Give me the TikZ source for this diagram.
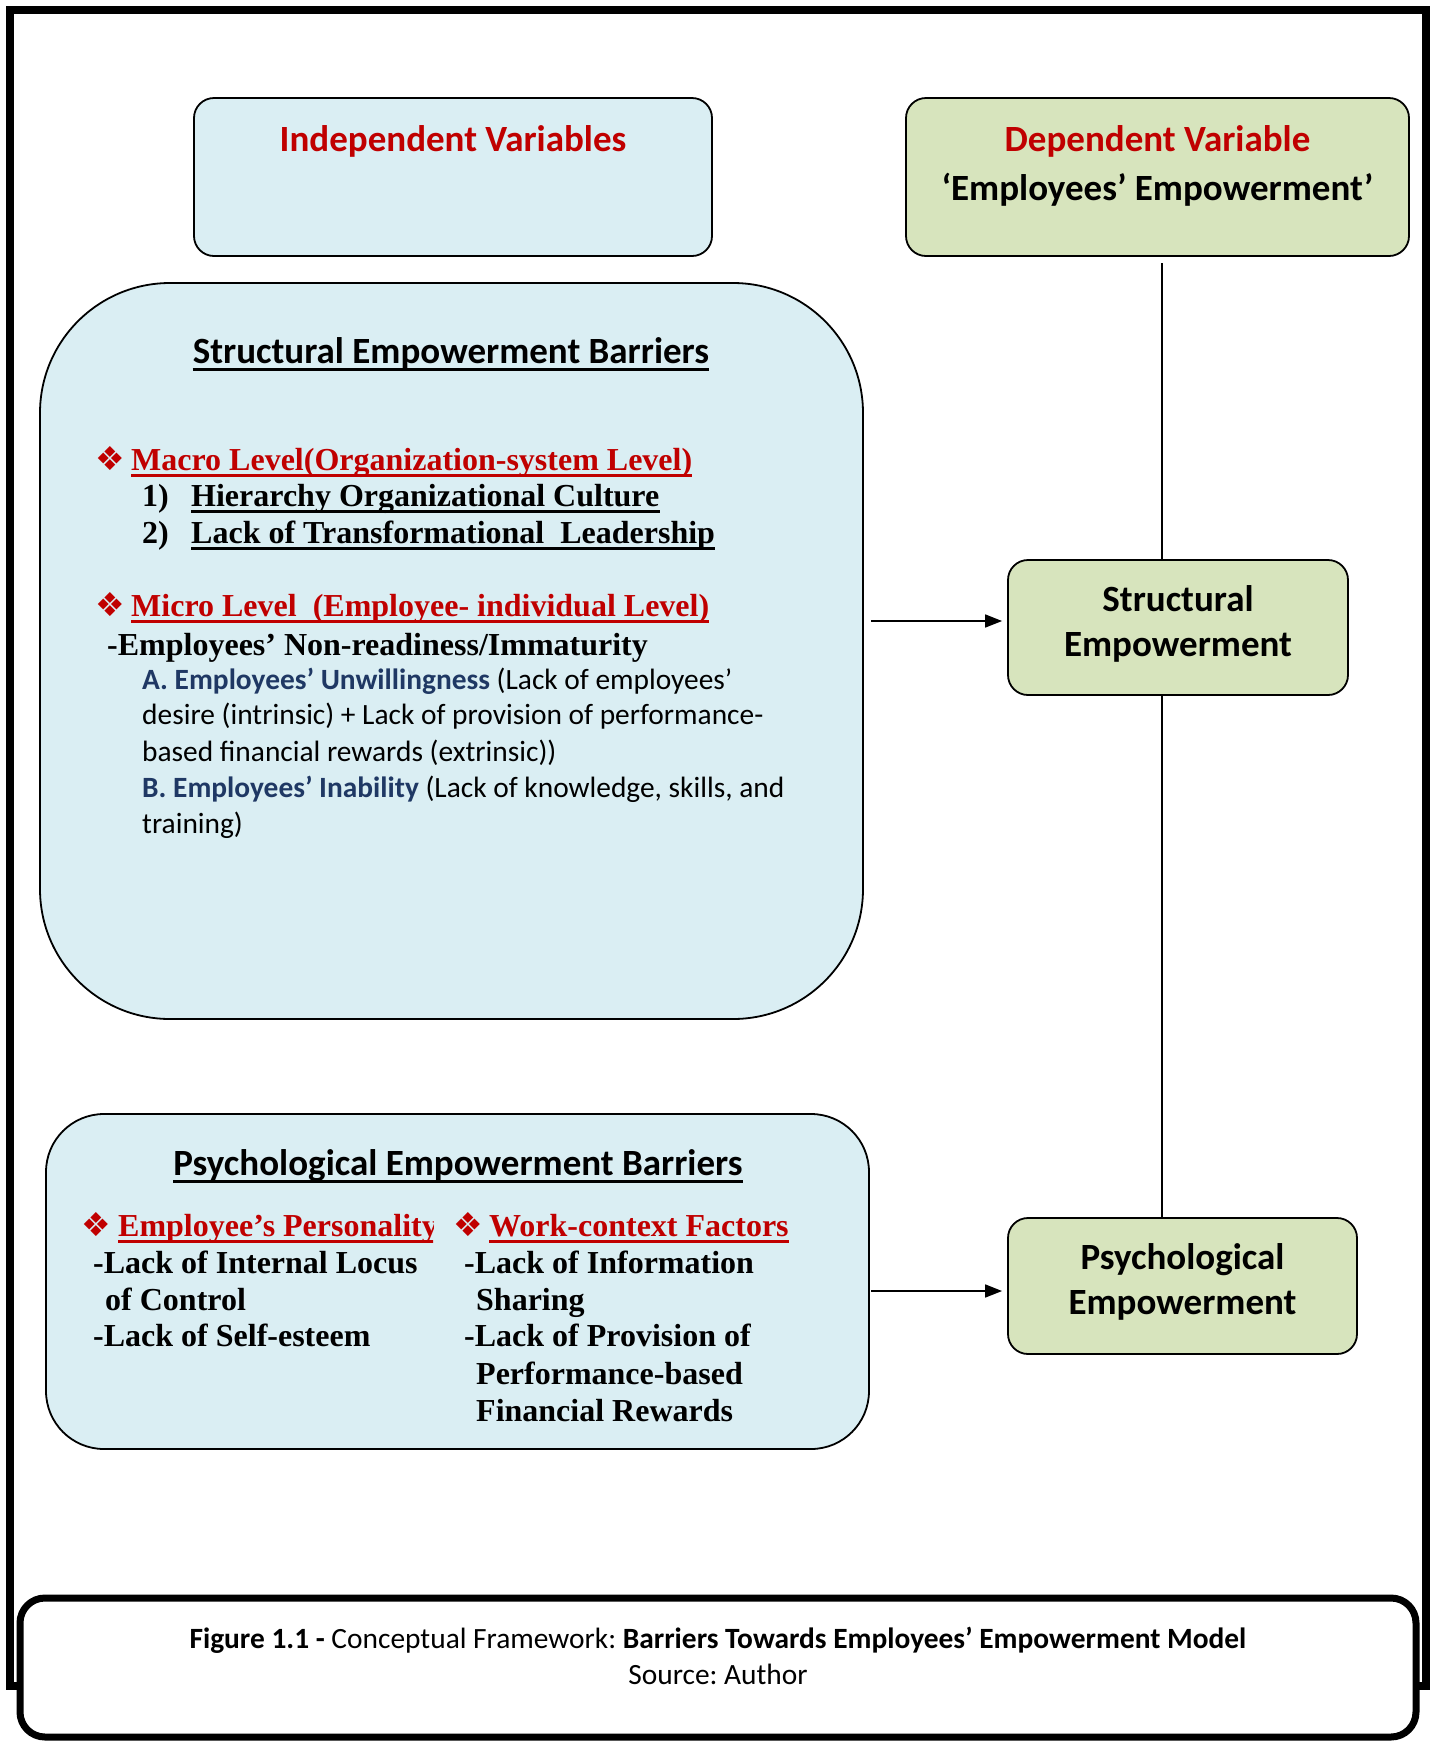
\documentclass[tikz,border=0pt]{standalone}
\usepackage{fontspec}
\setmainfont{Liberation Serif}
\newfontfamily\calibri{Carlito}
\newfontfamily\symb{DejaVu Sans}
\usetikzlibrary{arrows.meta}
\frenchspacing

\definecolor{lblue}{HTML}{DAEEF3}
\definecolor{lgreen}{HTML}{D7E4BD}
\definecolor{dred}{HTML}{C00000}
\definecolor{navy}{HTML}{1F3864}

\tikzstyle{bluebox}=[draw=black,line width=1.8pt,fill=lblue]
\tikzstyle{greenbox}=[draw=black,line width=1.8pt,fill=lgreen,rounded corners=20pt]
\tikzstyle{empbox}=[greenbox,align=center,text depth=13pt,font=\calibri\bfseries\fontsize{37}{45}\selectfont]
\tikzstyle{txt}=[inner sep=0pt,anchor=base west]
\tikzstyle{ttl}=[inner sep=0pt,anchor=base,font=\calibri\bfseries\fontsize{37}{44}\selectfont]
\tikzstyle{tms}=[txt,font=\bfseries\fontsize{32}{38}\selectfont]
\tikzstyle{cal}=[txt,font=\calibri\fontsize{29.4}{36}\selectfont]
\tikzstyle{bull}=[txt,text=dred,font=\symb\fontsize{33}{36}\selectfont]
\tikzstyle{uline}=[line width=3pt]
\tikzstyle{conn}=[line width=1.6pt]

\begin{document}
\begin{tikzpicture}[x=1pt,y=-1pt]
	\useasboundingbox (0,0) rectangle (1436,1741);
	\draw [line width=8pt] (10,10) rectangle (1426,1686);

	% variable headers
	\node (iv) at (453,177) [bluebox,rounded corners=20pt,minimum width=518pt,minimum height=158pt] {};
	\node (dv) at (1157.5,177) [greenbox,minimum width=503pt,minimum height=158pt] {};
	\node (ivt) at (453,151) [ttl,text=dred] {Independent Variables};
	\node (dvt1) at (1157.5,151) [ttl,text=dred] {Dependent Variable};
	\node (dvt2) at (1157.5,200) [ttl] {‘Employees’ Empowerment’};

	% structural barriers
	\node (sbar) at (451.5,651) [bluebox,rounded corners=130pt,minimum width=823pt,minimum height=736pt] {};
	\node (sbt) at (451,363) [ttl] {Structural Empowerment Barriers};
	\draw [uline] ([yshift=-6pt]sbt.base west) -- ([yshift=-6pt]sbt.base east);

	\node (b1) at (95,470) [bull] {❖};
	\node (mac) at (131,470) [tms,text=dred] {Macro Level(Organization-system Level)};
	\draw [uline,dred] ([yshift=-5pt]mac.base west) -- ([yshift=-5pt]mac.base east);
	\node (n1) at (142,506) [tms] {1)};
	\node (mac1) at (191,506) [tms] {Hierarchy Organizational Culture};
	\draw [uline] ([yshift=-5pt]mac1.base west) -- ([yshift=-5pt]mac1.base east);
	\node (n2) at (142,543) [tms] {2)};
	\node (mac2) at (191,543) [tms] {Lack of Transformational\ \ Leadership};
	\draw [uline] ([yshift=-5pt]mac2.base west) -- ([yshift=-5pt]mac2.base east);

	\node (b2) at (95,616) [bull] {❖};
	\node (mic) at (131,616) [tms,text=dred] {Micro Level\ \ (Employee- individual Level)};
	\draw [uline,dred] ([yshift=-5pt]mic.base west) -- ([yshift=-5pt]mic.base east);
	\node (mic0) at (107,655) [tms] {-Employees’ Non-readiness/Immaturity};
	\node (ua) at (142,689) [cal] {\textcolor{navy}{\bfseries A. Employees’ Unwillingness} (Lack of employees’};
	\node (ub) at (142,724) [cal] {desire (intrinsic) + Lack of provision of performance-};
	\node (uc) at (142,761) [cal] {based financial rewards (extrinsic))};
	\node (ud) at (142,797) [cal] {\textcolor{navy}{\bfseries B. Employees’ Inability} (Lack of knowledge, skills, and};
	\node (ue) at (142,833) [cal] {training)};

	% psychological barriers
	\node (pbar) at (457.5,1281.5) [bluebox,rounded corners=58pt,minimum width=823pt,minimum height=335pt] {};
	\node (pbt) at (458,1175) [ttl] {Psychological Empowerment Barriers};
	\draw [uline] ([yshift=-6pt]pbt.base west) -- ([yshift=-6pt]pbt.base east);

	\node (b3) at (81,1236) [bull] {❖};
	\begin{scope}
		\clip (100,1190) rectangle (433,1250);
		\node (pers) at (118,1236) [tms,text=dred] {Employee’s Personality};
		\draw [uline,dred] ([yshift=-5pt]pers.base west) -- ([yshift=-5pt]pers.base east);
	\end{scope}
	\node (b4) at (453,1236) [bull] {❖};
	\node (work) at (489,1236) [tms,text=dred] {Work-context Factors};
	\draw [uline,dred] ([yshift=-5pt]work.base west) -- ([yshift=-5pt]work.base east);

	\node (lc1) at (93,1273) [tms] {-Lack of Internal Locus};
	\node (lc2) at (105,1310) [tms] {of Control};
	\node (lc3) at (93,1346) [tms] {-Lack of Self-esteem};
	\node (rc1) at (464,1273) [tms] {-Lack of Information};
	\node (rc2) at (476,1310) [tms] {Sharing};
	\node (rc3) at (464,1346) [tms] {-Lack of Provision of};
	\node (rc4) at (476,1384) [tms] {Performance-based};
	\node (rc5) at (476,1421) [tms] {Financial Rewards};

	% empowerment boxes
	\node (se) at (1178,627.5) [empbox,minimum width=340pt,minimum height=135pt] {Structural\\Empowerment};
	\node (pe) at (1182.5,1286) [empbox,minimum width=349pt,minimum height=136pt] {Psychological\\Empowerment};

	\coordinate (v0) at (1162,263);
	\coordinate (s0) at (871,621);
	\coordinate (p0) at (871,1291);
	\draw [conn] (v0) -- (v0 |- se.north);
	\draw [conn] (v0 |- se.south) -- (v0 |- pe.north);
	\draw [conn,-{Triangle[length=17pt,width=13pt]},shorten >=5pt] (s0) -- (s0 -| se.west);
	\draw [conn,-{Triangle[length=17pt,width=13pt]},shorten >=5pt] (p0) -- (p0 -| pe.west);

	% caption
	\node (cap) at (718,1667.5) [draw,line width=7pt,fill=white,rounded corners=25pt,minimum width=1396pt,minimum height=139pt] {};
	\node (cap1) at (718,1648) [inner sep=0pt,anchor=base,font=\calibri\fontsize{29.4}{36}\selectfont] {\textbf{Figure 1.1 -} Conceptual Framework: \textbf{Barriers Towards Employees’ Empowerment Model}};
	\node (cap2) at (718,1684) [inner sep=0pt,anchor=base,font=\calibri\fontsize{29.4}{36}\selectfont] {Source: Author};

\end{tikzpicture}
\end{document}
